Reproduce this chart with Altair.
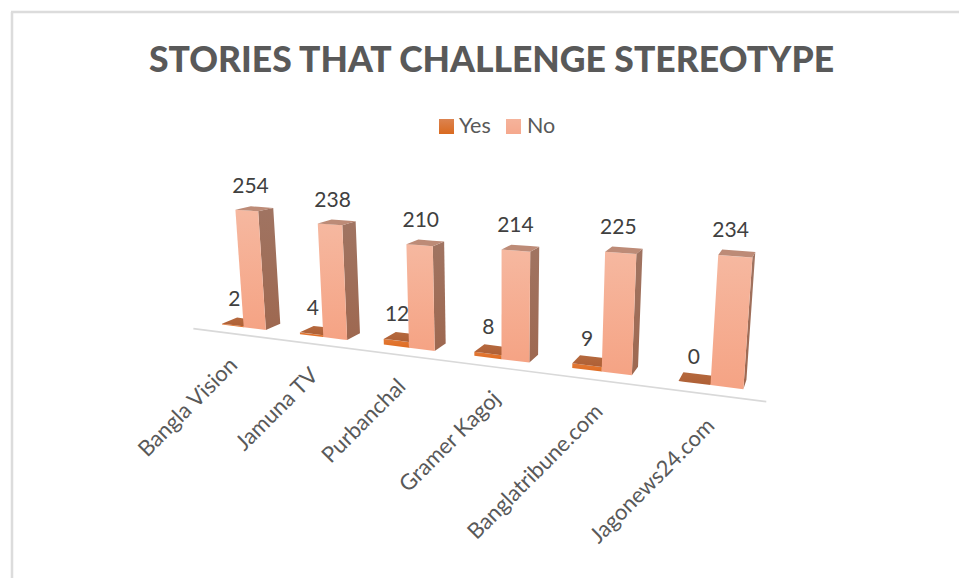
import altair as alt
import pandas as pd

# Chart content
TITLE = "STORIES THAT CHALLENGE STEREOTYPE"
outlets = ["Bangla Vision", "Jamuna TV", "Purbanchal", "Gramer Kagoj", "Banglatribune.com", "Jagonews24.com"]
yes_counts = [2, 4, 12, 8, 9, 0]
no_counts = [254, 238, 210, 214, 225, 234]

W, H = 959, 578
BAR = 1 / 3.5  # bar width in category slots (gap width 150%)

# Pinhole camera: world (slot, depth, value) -> screen position
CAM = [68.106222, 21.304333, -0.06197, 243.723443,
       -2.11996, 1.911472, -0.48848, 327.234837,
       -0.035543, 0.025201, -0.000124]


def project(slot, depth, value):
    c = CAM
    den = 1 + c[8] * slot + c[9] * depth + c[10] * value
    return ((c[0] * slot + c[1] * depth + c[2] * value + c[3]) / den,
            (c[4] * slot + c[5] * depth + c[6] * value + c[7]) / den)


def polygon_rows(points, face):
    """Describe a convex polygon as x / upper / lower rows for an area mark."""
    rows = []
    n = len(points)
    for x in sorted({p[0] for p in points}):
        ys = []
        for k in range(n):
            (x0, y0), (x1, y1) = points[k], points[(k + 1) % n]
            if min(x0, x1) <= x <= max(x0, x1):
                if x0 == x1:
                    ys += [y0, y1]
                else:
                    ys.append(y0 + (y1 - y0) * (x - x0) / (x1 - x0))
        rows.append({"face": face, "x": x, "y": min(ys), "y2": max(ys)})
    return rows


def box_faces(left, value, tag):
    right = left + BAR
    front = [project(left, 0, value), project(right, 0, value),
             project(right, 0, 0), project(left, 0, 0)]
    side = [project(right, 0, value), project(right, 1, value),
            project(right, 1, 0), project(right, 0, 0)]
    top = [project(left, 0, value), project(right, 0, value),
           project(right, 1, value), project(left, 1, value)]
    return (polygon_rows(front, tag), polygon_rows(side, tag), polygon_rows(top, tag))


x_scale = alt.Scale(domain=[0, W], range=[0, W], nice=False, zero=False)
y_scale = alt.Scale(domain=[0, H], range=[0, H], nice=False, zero=False)
X = alt.X("x:Q", scale=x_scale, axis=None)
Y = alt.Y("y:Q", scale=y_scale, axis=None)
X2 = alt.X2("x2:Q")
Y2 = alt.Y2("y2:Q")


def vgrad(top, bottom):
    return alt.LinearGradient(
        gradient="linear", x1=0, y1=0, x2=0, y2=1,
        stops=[alt.GradientStop(offset=0, color=top), alt.GradientStop(offset=1, color=bottom)],
    )


def face_layer(rows, fill):
    return alt.Chart(pd.DataFrame(rows)).mark_area(
        color=fill, orient="vertical", interpolate="linear"
    ).encode(x=X, y=Y, y2=Y2, detail="face:N")


yes_front, yes_side, yes_top, no_front, no_side, no_top = [], [], [], [], [], []
for i, (y_val, n_val) in enumerate(zip(yes_counts, no_counts)):
    f, s, t = box_faces(i - BAR, y_val, f"yes{i}")
    yes_front += f; yes_side += s; yes_top += t
    f, s, t = box_faces(i, n_val, f"no{i}")
    no_front += f; no_side += s; no_top += t

layers = []

# Chart border: top and left edges only
frame = pd.DataFrame({"x": [11, 12], "x2": [W, 12], "y": [12, 12], "y2": [12, H]})
layers.append(alt.Chart(frame).mark_rule(color="#DCDCDC", strokeWidth=2.5).encode(x=X, x2=X2, y=Y, y2=Y2))

# Category axis line running in front of the bars
ax0 = project(-0.47, -0.92, 0)
ax1 = project(5.5, -0.92, 0)
axis_line = pd.DataFrame({"x": [ax0[0], ax1[0]], "y": [ax0[1], ax1[1]]})
layers.append(alt.Chart(axis_line).mark_line(color="#D9D9D9", strokeWidth=1.6).encode(x=X, y=Y))

# Bars, back faces first
layers += [
    face_layer(yes_side, "#9C5A30"),
    face_layer(yes_front, vgrad("#E27A38", "#DF6C22")),
    face_layer(yes_top, vgrad("#B5693E", "#AE5F35")),
    face_layer(no_side, vgrad("#A07462", "#9E6850")),
    face_layer(no_front, vgrad("#F6B8A0", "#F5A384")),
    face_layer(no_top, "#BD8B77"),
]

# Value labels sit above each bar top
yes_rows = []
for i, v in enumerate(yes_counts):
    px, py = project(i - BAR / 2, 0.2, v)
    yes_rows.append({"x": px, "y": py, "label": str(v)})
no_rows = []
for i, v in enumerate(no_counts):
    px, py = project(i + BAR / 2, 0.7, v)
    no_rows.append({"x": px, "y": py, "label": str(v)})
layers.append(
    alt.Chart(pd.DataFrame(yes_rows)).mark_text(
        font="Lato", fontSize=21, color="#404040", align="center", baseline="middle", dx=-1.5, dy=-23.5
    ).encode(x=X, y=Y, text="label:N")
)
layers.append(
    alt.Chart(pd.DataFrame(no_rows)).mark_text(
        font="Lato", fontSize=21, color="#404040", align="center", baseline="middle", dx=-7, dy=-21
    ).encode(x=X, y=Y, text="label:N")
)

# Slanted category labels, right-aligned under their slot
cat_rows = []
for i, name in enumerate(outlets):
    px, py = project(i, -0.92, 0)
    cat_rows.append({"x": px, "y": py, "label": name})
layers.append(
    alt.Chart(pd.DataFrame(cat_rows)).mark_text(
        font="Lato", fontSize=22, color="#595959", align="right", baseline="middle", angle=315, dx=-17, dy=23
    ).encode(x=X, y=Y, text="label:N")
)

# Legend swatches and captions
swatches = [{"x": 439, "x2": 454, "y": 119, "y2": 134}]
layers.append(alt.Chart(pd.DataFrame(swatches)).mark_rect(color=vgrad("#DC8350", "#D96A20")).encode(x=X, x2=X2, y=Y, y2=Y2))
swatches = [{"x": 506, "x2": 521, "y": 119, "y2": 134}]
layers.append(alt.Chart(pd.DataFrame(swatches)).mark_rect(color=vgrad("#F5B39B", "#F5A88D")).encode(x=X, x2=X2, y=Y, y2=Y2))
captions = pd.DataFrame([{"x": 459, "y": 127, "label": "Yes"}, {"x": 527, "y": 127, "label": "No"}])
layers.append(
    alt.Chart(captions).mark_text(
        font="Lato", fontSize=21.5, color="#595959", align="left", baseline="middle"
    ).encode(x=X, y=Y, text="label:N")
)

# Title
title_df = pd.DataFrame([{"x": 491.5, "y": 61, "label": TITLE}])
layers.append(
    alt.Chart(title_df).mark_text(
        font="Lato", fontSize=35.5, fontWeight=900, color="#595959", align="center", baseline="middle"
    ).encode(x=X, y=Y, text="label:N")
)

chart = alt.layer(*layers).properties(
    width=W, height=H, padding=0, autosize=alt.AutoSizeParams(type="none"), background="white"
).configure_view(stroke=None)

chart.save("out.html", embed_options={"renderer": "svg", "actions": False})
